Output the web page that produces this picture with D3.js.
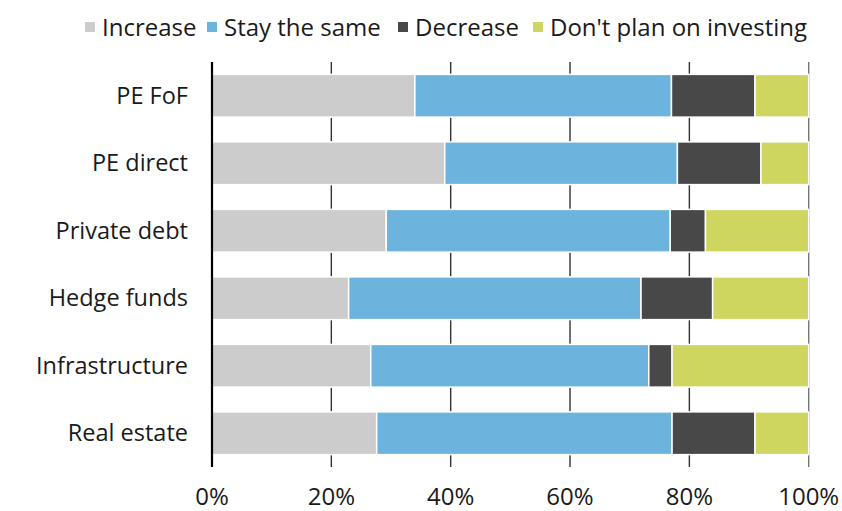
<!DOCTYPE html>
<html>
<head>
<meta charset="utf-8">
<script src="https://cdn.jsdelivr.net/npm/d3@7"></script>
<style>
    body { margin: 0; background: #fff; }
    text { font-family: "Open Sans", sans-serif; fill: #1a1a1a; }
</style>
</head>
<body>
<script>

// chart data (percentages)
var categories = ["PE FoF", "PE direct", "Private debt", "Hedge funds", "Infrastructure", "Real estate"];
var seriesNames = ["Increase", "Stay the same", "Decrease", "Don't plan on investing"];
var increase = [34, 39, 29.2, 22.9, 26.6, 27.6];
var stayTheSame = [43, 39, 47.6, 49, 46.6, 49.5];
var decrease = [14, 14, 5.9, 12, 3.9, 13.9];
var dontPlan = [9, 8, 17.3, 16.1, 22.9, 9];
var tickValues = [0, 20, 40, 60, 80, 100];
var colors = ["#cccccc", "#6cb4dd", "#484848", "#cfd660"];

// canvas size and plot area
var canvasX = 842;
var canvasY = 511;
var plotLeft = 212;
var plotRight = 808.7;
var plotTop = 62;
var plotBottom = 467;

window.onload = function() {

    var svg = d3.select("body")
                .append("svg")
                .attr("width", canvasX)
                .attr("height", canvasY);

    // build rows for the stack
    var rows = categories.map(function(c, i) {
        return {cat: c, "Increase": increase[i], "Stay the same": stayTheSame[i],
                "Decrease": decrease[i], "Don't plan on investing": dontPlan[i]};
    });
    var stacked = d3.stack().keys(seriesNames)(rows);

    var scaleX = d3.scaleLinear().domain([0, 100]).range([plotLeft, plotRight]);
    var scaleY = d3.scaleBand()
                   .domain(categories)
                   .range([plotTop, plotBottom])
                   .paddingInner(0.367)
                   .paddingOuter(0.1835);

    // vertical grid lines behind the bars
    svg.append("g")
       .selectAll("line")
       .data(tickValues.slice(1))
       .enter()
       .append("line")
       .attr("x1", function(d) { return scaleX(d); })
       .attr("x2", function(d) { return scaleX(d); })
       .attr("y1", plotTop)
       .attr("y2", plotBottom)
       .attr("stroke", function(d) { return d == 100 ? "#777" : "#333"; })
       .attr("stroke-width", 1.4);

    // bars
    var groups = svg.selectAll(".series")
                    .data(stacked)
                    .enter().append("g")
                    .attr("class", "series")
                    .attr("fill", function(d, i) { return colors[i]; });

    groups.selectAll("rect")
          .data(function(d) { return d; })
          .enter()
          .append("rect")
          .attr("x", function(d) { return scaleX(d[0]); })
          .attr("y", function(d) { return scaleY(d.data.cat); })
          .attr("width", function(d) { return scaleX(d[1]) - scaleX(d[0]); })
          .attr("height", scaleY.bandwidth())
          .attr("stroke", "#fff")
          .attr("stroke-width", 1.5);

    // y axis line
    svg.append("line")
       .attr("x1", plotLeft).attr("x2", plotLeft)
       .attr("y1", plotTop).attr("y2", plotBottom)
       .attr("stroke", "#000")
       .attr("stroke-width", 2.2);

    // category labels
    svg.selectAll(".catLabel")
       .data(categories)
       .enter().append("text")
       .attr("class", "catLabel")
       .attr("x", 188)
       .attr("y", function(d) { return scaleY(d) + scaleY.bandwidth() / 2; })
       .attr("dy", "0.35em")
       .attr("text-anchor", "end")
       .style("font-size", "23.5px")
       .text(function(d) { return d; });

    // x tick labels
    svg.selectAll(".tickLabel")
       .data(tickValues)
       .enter().append("text")
       .attr("class", "tickLabel")
       .attr("x", function(d) { return scaleX(d); })
       .attr("y", 505)
       .attr("text-anchor", "middle")
       .style("font-size", "24px")
       .text(function(d) { return d + "%"; });

    // legend, laid out left to right
    var legendX = [85, 207, 398, 533];
    var legend = svg.selectAll(".legend")
                    .data(seriesNames)
                    .enter().append("g")
                    .attr("class", "legend")
                    .attr("transform", function(d, i) { return "translate(" + legendX[i] + ",0)"; });

    legend.append("rect")
          .attr("x", 0)
          .attr("y", 22)
          .attr("width", 10)
          .attr("height", 10)
          .attr("fill", function(d, i) { return colors[i]; });

    legend.append("text")
          .attr("x", 17)
          .attr("y", 36)
          .style("font-size", "24px")
          .text(function(d) { return d; });
};
</script>
</body>
</html>
